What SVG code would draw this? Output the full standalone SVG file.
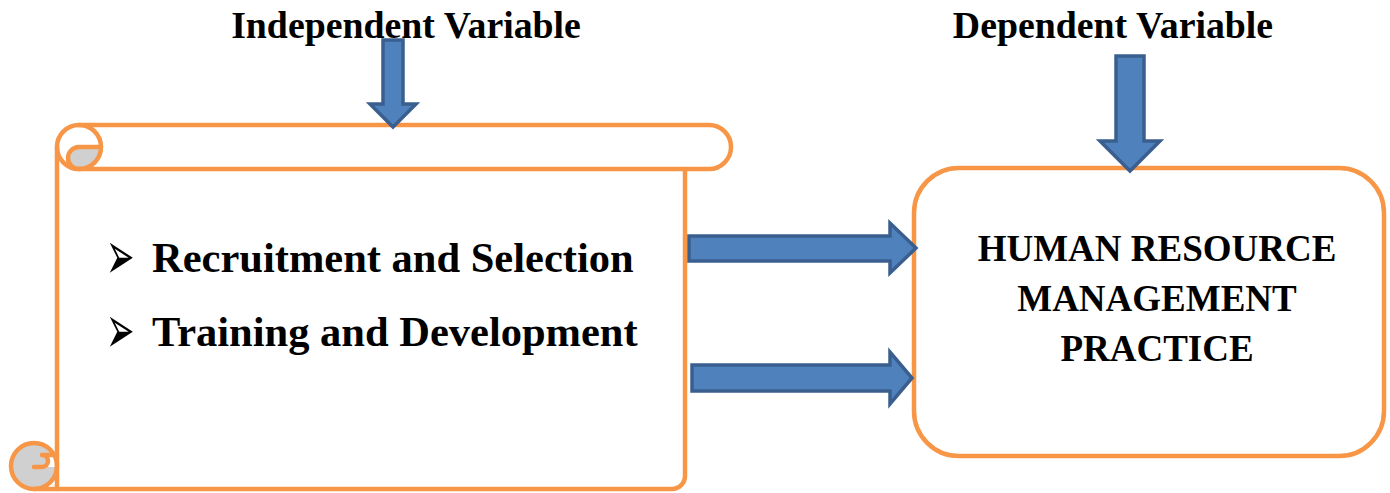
<svg xmlns="http://www.w3.org/2000/svg" width="1390" height="493" viewBox="0 0 1390 493">
<style>
.o{fill:none;stroke:#F79646;stroke-width:4.5;stroke-linejoin:round;stroke-linecap:round}
.g{fill:#D0D0D0;stroke:none}
.ar{fill:#4F81BD;stroke:#3A5F8E;stroke-width:3.5;stroke-linejoin:miter}
.t{font-family:"Liberation Serif","Times New Roman",serif;font-weight:bold;fill:#000}
.b{font-family:"DejaVu Sans",sans-serif;fill:#000;font-size:34px}
</style>
<rect width="1390" height="493" fill="#fff"/>
<g id="scroll">
  <path d="M79,125 L709,125 A22,22 0 0 1 709,169 L685,169 L685,476 A13,13 0 0 1 672,489 L34,489 L34,443 L57,443 L57,147 Z" fill="#fff"/>
  <path class="g" d="M101,147 L79,147 A11,11 0 0 0 79,169 A22,22 0 0 0 101,147 Z"/>
  <circle class="g" cx="34" cy="466" r="23"/>
  <path fill="#fff" d="M42,467 A6,6 0 0 0 42,455 L57,455 L57,467 Z"/>
  <path class="o" d="M79,125 L709,125 A22,22 0 0 1 709,169 L79,169"/>
  <circle class="o" cx="79" cy="147" r="22"/>
  <path class="o" d="M101,147 L79,147 A11,11 0 0 0 79,169"/>
  <path class="o" d="M685,169 L685,476 A13,13 0 0 1 672,489 L34,489"/>
  <path class="o" d="M57,147 L57,489"/>
  <circle class="o" cx="34" cy="466" r="23"/>
  <path class="o" d="M34,467 L42,467 A6,6 0 0 0 42,455 L57,455"/>
  <text class="b" transform="translate(106,279) scale(1,2)" x="0" y="0">➢</text>
  <text class="b" transform="translate(106,353) scale(1,2)" x="0" y="0">➢</text>
  <text class="t" x="152" y="272" font-size="42.5">Recruitment and Selection</text>
  <text class="t" x="152" y="346" font-size="42.5">Training and Development</text>
</g>
<g id="hrm">
  <rect class="o" x="914" y="168" width="470" height="288" rx="45" ry="45" fill="#fff"/>
  <text class="t" x="1157" y="261" font-size="37" text-anchor="middle">HUMAN RESOURCE</text>
  <text class="t" x="1157" y="311" font-size="37" text-anchor="middle">MANAGEMENT</text>
  <text class="t" x="1157" y="361" font-size="37" text-anchor="middle">PRACTICE</text>
</g>
<g id="labels">
  <text class="t" x="406" y="38" font-size="37.8" text-anchor="middle">Independent Variable</text>
  <text class="t" x="1113" y="38" font-size="37.8" text-anchor="middle">Dependent Variable</text>
</g>
<g id="connectors">
  <path class="ar" d="M383,40 L403,40 L403,104 L416,104 L393,127 L370,104 L383,104 Z"/>
  <path class="ar" d="M1116,56 L1144,56 L1144,141 L1160,141 L1130,171 L1100,141 L1116,141 Z"/>
  <path class="ar" d="M689,236 L890,236 L890,223 L916,248 L890,273 L890,261 L689,261 Z"/>
  <path class="ar" d="M692,365 L890,365 L890,352 L912,378 L890,404 L890,391 L692,391 Z"/>
</g>
</svg>
